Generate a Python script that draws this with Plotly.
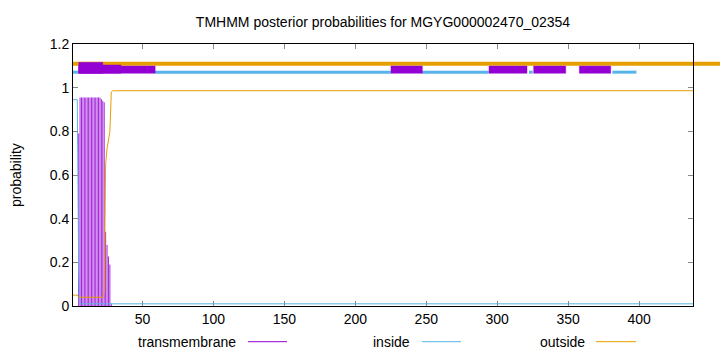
import plotly.graph_objects as go

# ---------------- data ----------------
L = 438
positions = list(range(1, L + 1))

# transmembrane posterior probability (per residue)
tm_prob = ([0.0] * 4 + [0.79] + [0.955] * 15 + [0.948, 0.94, 0.933, 0.34, 0.28, 0.227, 0.19, 0.01]
           + [0.0] * (L - 28))
# inside posterior probability
inside_prob = [0.945] * 4 + [0.17] + [0.01] * (L - 5)
# outside posterior probability
outside_prob = ([0.05] * 4 + [0.04] * 18 + [0.06, 0.65, 0.72, 0.77, 0.80, 0.98]
                + [0.986] * (L - 28))

# predicted topology bars at the top
tm_box_start = [5.1, 5.1, 5.1, 225.1, 294.2, 325.7, 357.9]
tm_box_end = [22.0, 34.8, 58.9, 247.2, 321.0, 348.3, 380.0]
tm_box_top = [1.116, 1.104, 1.099, 1.099, 1.099, 1.099, 1.099]
tm_box_bottom = [1.066] * 7
inside_seg_start = [1, 58.7, 247.0, 322.4, 381.2]
inside_seg_end = [5.0, 225.0, 294.0, 325.0, 398.1]
inside_bar_y = 1.071
outside_bar_y = 1.11

x_ticks = [50, 100, 150, 200, 250, 300, 350, 400]
y_ticks = [0, 0.2, 0.4, 0.6, 0.8, 1, 1.2]
y_ticklabels = ["0", "0.2", "0.4", "0.6", "0.8", "1", "1.2"]

title = "TMHMM posterior probabilities for MGYG000002470_02354"
legend_names = ["transmembrane", "inside", "outside"]

# ---------------- style ----------------
C_TM = "#9400D3"
C_IN = "#56B4E9"
C_OUT = "#E69F00"
FONT = "Liberation Sans"
FS = 14

W, H = 720, 352
ML, MR, MT, MB = 73, 27, 44, 46
PW, PH = W - ML - MR, H - MT - MB

def px_to_paper_x(px):
    return (px - ML) / PW

def px_to_paper_y(py):
    return (H - MB - py) / PH

fig = go.Figure()

# TM probability as impulses (vertical lines, like gnuplot "with impulses")
ix, iy = [], []
for p, v in zip(positions, tm_prob):
    if v > 0:
        ix += [p, p, None]
        iy += [0, v, None]
fig.add_trace(go.Scatter(x=ix, y=iy, mode="lines",
                         line=dict(color="rgba(148,0,211,0.85)", width=1),
                         showlegend=False, hoverinfo="skip"))

# inside / outside probability lines
fig.add_trace(go.Scatter(x=positions, y=inside_prob, mode="lines",
                         line=dict(color=C_IN, width=1), showlegend=False))
fig.add_trace(go.Scatter(x=positions, y=outside_prob, mode="lines",
                         line=dict(color=C_OUT, width=1), showlegend=False))

# inside topology segments
xs, ys = [], []
for s, e in zip(inside_seg_start, inside_seg_end):
    xs += [s, e, None]
    ys += [inside_bar_y, inside_bar_y, None]
fig.add_trace(go.Scatter(x=xs, y=ys, mode="lines",
                         line=dict(color=C_IN, width=3), showlegend=False))

# TM topology boxes
for s, e, t, b in zip(tm_box_start, tm_box_end, tm_box_top, tm_box_bottom):
    fig.add_trace(go.Scatter(x=[s, e, e, s, s], y=[b, b, t, t, b], mode="lines",
                             fill="toself", fillcolor=C_TM,
                             line=dict(color="rgba(148,0,211,0.45)", width=1),
                             showlegend=False))

# outside topology bar (extends past the frame like gnuplot)
fig.add_shape(type="line", xref="paper", yref="y", x0=0, x1=1.1,
              y0=outside_bar_y, y1=outside_bar_y, layer="below",
              line=dict(color=C_OUT, width=4))

# manual gnuplot-style legend
leg_y = px_to_paper_y(341.7)
leg_text_right = [238, 412, 587]
leg_line = [(248, 287), (422, 461), (596, 636)]
leg_cols = [C_TM, C_IN, C_OUT]
for name, tr, (l0, l1), c in zip(legend_names, leg_text_right, leg_line, leg_cols):
    fig.add_annotation(x=px_to_paper_x(tr), y=leg_y, xref="paper", yref="paper",
                       text=name, showarrow=False, xanchor="right", yanchor="middle",
                       font=dict(family=FONT, size=FS, color="black"))
    fig.add_shape(type="line", xref="paper", yref="paper",
                  x0=px_to_paper_x(l0), x1=px_to_paper_x(l1), y0=leg_y, y1=leg_y,
                  line=dict(color=c, width=1))

# y axis label
fig.add_annotation(x=px_to_paper_x(16), y=0.5, xref="paper", yref="paper",
                   text="probability", showarrow=False, textangle=-90,
                   xanchor="center", yanchor="middle",
                   font=dict(family=FONT, size=FS, color="black"))

fig.update_layout(
    width=W, height=H,
    margin=dict(l=ML, r=MR, t=MT, b=MB),
    paper_bgcolor="white", plot_bgcolor="white",
    title=dict(text=title, x=0.5, xref="paper", y=1 - 22 / H, yref="container",
               xanchor="center", yanchor="middle",
               font=dict(family=FONT, size=FS, color="black")),
    font=dict(family=FONT, size=FS, color="black"),
    showlegend=False,
)
fig.update_xaxes(range=[1, L], tickvals=x_ticks, ticks="inside", ticklen=5,
                 tickcolor="#888", showline=True, linecolor="black", linewidth=1,
                 mirror="ticks", showgrid=False, zeroline=False,
                 tickfont=dict(family=FONT, size=FS))
fig.update_yaxes(range=[0, 1.2], tickvals=y_ticks, ticktext=y_ticklabels,
                 ticks="inside", ticklen=5, tickcolor="#888",
                 showline=True, linecolor="black", linewidth=1, mirror="ticks",
                 showgrid=False, zeroline=False, tickfont=dict(family=FONT, size=FS))

fig.write_html("out.html")
